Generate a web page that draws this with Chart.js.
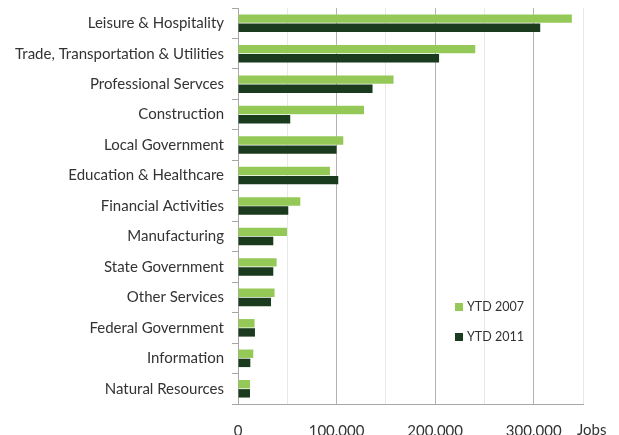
<!DOCTYPE html>
<html>
<head>
<meta charset="utf-8">
<script src="https://cdn.jsdelivr.net/npm/chart.js@4.4.0/dist/chart.umd.min.js"></script>
<style>
    html, body { margin: 0; padding: 0; background: #fff; }
    #wrap { position: relative; width: 619px; height: 435px; font-family: Lato, sans-serif; color: #333; }
    #legend { position: absolute; left: 455px; top: 299px; font-size: 12.5px; }
    #legend div { height: 30px; line-height: 16px; }
    #legend span { display: inline-block; width: 8px; height: 8px; margin-right: 4px; }
    #unit { position: absolute; left: 577px; top: 420px; font-size: 15px; line-height: 18px; }
</style>
</head>
<body>
<div id="wrap">
    <canvas id="jobsChart" width="619" height="435"></canvas>
    <div id="legend"></div>
    <div id="unit">Jobs</div>
</div>
<script>
const categories = [
    'Leisure & Hospitality',
    'Trade, Transportation & Utilities',
    'Professional Servces',
    'Construction',
    'Local Government',
    'Education & Healthcare',
    'Financial Activities',
    'Manufacturing',
    'State Government',
    'Other Services',
    'Federal Government',
    'Information',
    'Natural Resources'
];
const ytd2007 = [338700, 240700, 157800, 127800, 106800, 93300, 63200, 49700, 39200, 37100, 16800, 15500, 12200];
const ytd2011 = [306600, 204000, 136500, 53000, 100000, 101700, 51000, 35800, 35800, 33500, 17200, 12500, 12200];
const seriesNames = ['YTD 2007', 'YTD 2011'];
const seriesColors = ['#95c957', '#1b3b1e'];
const tickLabels = {0: '0', 100000: '100.000', 200000: '200.000', 300000: '300.000'};

const font = { family: 'Lato, sans-serif', size: 15 };

const data = {
    labels: categories,
    datasets: [
        { label: seriesNames[0], data: ytd2007, backgroundColor: seriesColors[0] },
        { label: seriesNames[1], data: ytd2011, backgroundColor: seriesColors[1] }
    ]
};

const options = {
    indexAxis: 'y',
    responsive: false,
    animation: false,
    layout: { padding: { top: 8, right: 36, left: 0, bottom: 0 } },
    datasets: { bar: { barPercentage: 0.92, categoryPercentage: 0.6 } },
    plugins: { legend: { display: false }, tooltip: { enabled: false } },
    scales: {
        x: {
            min: 0,
            max: 350000,
            ticks: {
                stepSize: 50000,
                autoSkip: false,
                maxRotation: 0,
                padding: 18,
                color: '#333',
                font: font,
                callback: function(v) { return tickLabels[v] !== undefined ? tickLabels[v] : ''; }
            },
            grid: {
                drawTicks: false,
                color: function(ctx) { return ctx.tick && ctx.tick.value % 100000 === 0 ? '#b3b3b3' : '#e8e8e8'; }
            },
            border: { color: '#a6a6a6' },
            afterFit: function(scale) { scale.height = 31; }
        },
        y: {
            ticks: { color: '#333', font: font, padding: 8, autoSkip: false },
            grid: { offset: true, drawOnChartArea: false, tickLength: 6, color: '#a6a6a6' },
            border: { color: '#a6a6a6' },
            afterFit: function(scale) {
                scale.width = 238;
                scale.paddingTop = 0;
                scale.paddingBottom = 0;
            }
        }
    }
};

new Chart(document.getElementById('jobsChart'), { type: 'bar', data: data, options: options });

const legend = document.getElementById('legend');
seriesNames.forEach(function(name, i) {
    legend.insertAdjacentHTML('beforeend', '<div><span style="background:' + seriesColors[i] + '"></span>' + name + '</div>');
});
</script>
</body>
</html>
